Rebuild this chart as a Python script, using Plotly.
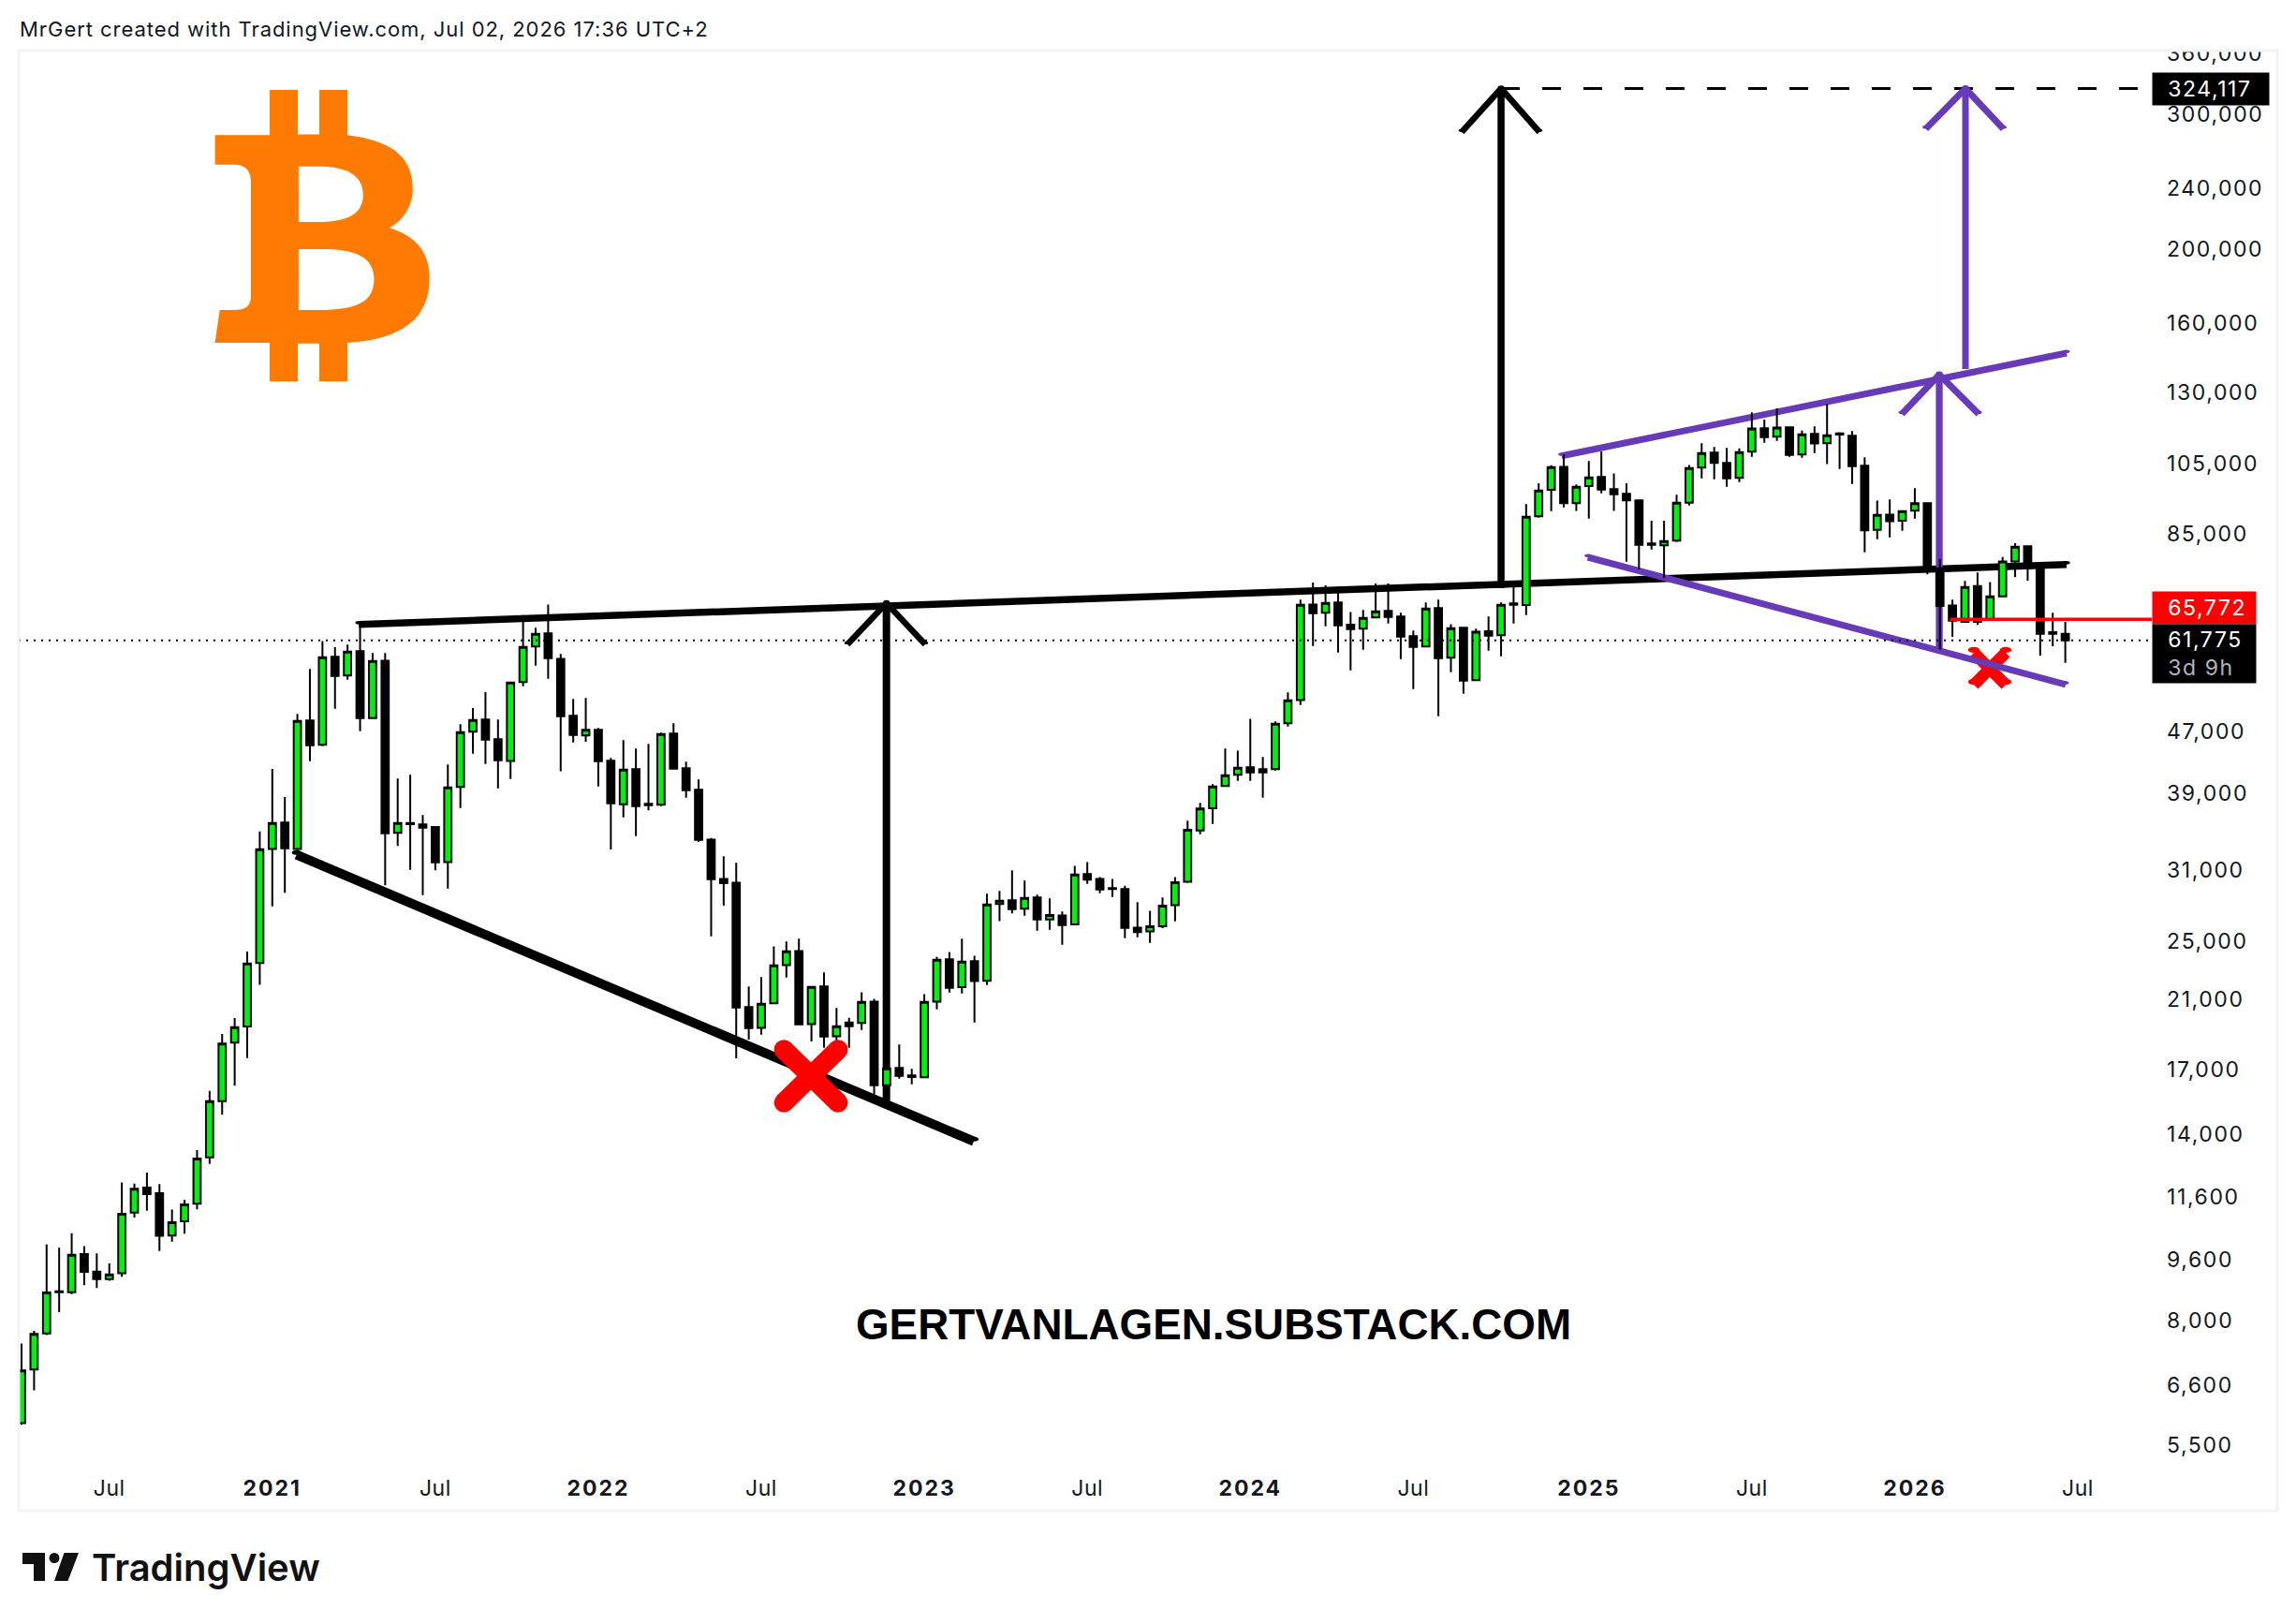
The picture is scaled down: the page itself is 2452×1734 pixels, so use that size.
import math

import plotly.graph_objects as go

# 2W BTC bars (bar index is the x axis, like TradingView)
bar_open = [5880, 6910, 7700, 8735, 8710, 9770, 9270, 9060, 9225, 11070, 11930, 11730, 10330, 10780, 11370, 13070, 15470, 18440, 19360, 23430,
            33000, 35720, 33000, 48540, 45110, 58770, 55560, 59780, 48900, 58100, 34640, 35680, 35520, 35250, 31730, 39750, 46930, 48670, 45880, 43000,
            54470, 60620, 63060, 58430, 49220, 46400, 47190, 43010, 37740, 41940, 37790, 37680, 46660, 42050, 39420, 33950, 30160, 29820, 20520, 19280,
            20750, 23280, 24280, 19500, 21830, 18800, 19590, 19560, 20860, 16230, 17090, 16710, 16620, 20860, 23690, 21790, 23560, 22200, 27970, 28280,
            27570, 28520, 26700, 27030, 26310, 30610, 30160, 29330, 29250, 26060, 25760, 26170, 27880, 29910, 34870, 37300, 39860, 41230, 42170, 41930,
            41930, 48130, 51630, 68790, 67090, 69190, 64730, 63960, 66150, 67460, 66330, 62530, 60620, 68030, 58610, 64130, 54790, 63470, 62710, 69000,
            68680, 89640, 97070, 104020, 93230, 98170, 100890, 97260, 95900, 94040, 82620, 82160, 83320, 93400, 103760, 108550, 105240, 100610, 108850, 116820,
            113880, 117150, 107940, 114820, 111650, 115030, 114160, 104340, 86080, 90120, 88440, 91180, 93230, 76700, 68560, 65300, 72690, 65700, 70480, 78300,
            81930, 77030, 63300, 63000]
bar_high = [7470, 7760, 10060, 9960, 10400, 10010, 9790, 9500, 12120, 12080, 12480, 12060, 11170, 11500, 13350, 15960, 18930, 19860, 24250, 34780,
            41970, 38570, 49500, 56680, 61630, 60500, 60960, 64900, 59440, 59440, 40770, 41230, 36530, 35250, 42530, 47990, 50400, 52860, 48670, 54500,
            66640, 64130, 68790, 59270, 51780, 51930, 47460, 43370, 45750, 44610, 45250, 46800, 48130, 42890, 40650, 34100, 32280, 31650, 21830, 22450,
            24630, 25000, 25210, 21850, 22770, 20460, 19870, 21460, 21040, 17450, 18340, 17040, 21340, 23860, 24220, 25200, 23950, 28840, 29090, 30940,
            30000, 28760, 28440, 27340, 31370, 31730, 30330, 30160, 29550, 28120, 27410, 28520, 30330, 35930, 37900, 40090, 44610, 44340, 48800, 43500,
            48400, 52820, 69780, 73470, 72860, 72500, 67260, 67670, 73260, 73260, 67090, 63590, 69190, 69780, 64830, 64240, 63960, 66330, 69190, 72500,
            92970, 99000, 104510, 108040, 98650, 105830, 108950, 101990, 99000, 94040, 88450, 88450, 95640, 104600, 111650, 110400, 110100, 109960, 122500, 119880,
            123990, 117150, 116000, 117440, 125600, 115400, 115800, 107020, 93950, 94300, 91340, 97540, 93230, 78900, 69780, 73820, 75720, 73600, 79340, 82690,
            82160, 77030, 67090, 65300]
bar_low = [5850, 6490, 7660, 8210, 8665, 8900, 8825, 9020, 9130, 10905, 11130, 9860, 10140, 10390, 11180, 12810, 14850, 16200, 17600, 21950,
           27770, 28920, 32800, 42970, 44950, 50290, 54880, 47010, 48750, 29590, 33290, 30990, 28720, 30950, 29300, 37330, 43930, 42590, 39590, 40730,
           53800, 57240, 55030, 41690, 45440, 45530, 39810, 32960, 36290, 34300, 37050, 37540, 41890, 38500, 33720, 25380, 27840, 17590, 18610, 18890,
           20720, 22430, 19460, 18510, 18160, 18470, 18160, 19160, 15790, 16030, 16550, 16270, 16580, 20380, 21440, 21380, 19590, 21930, 26560, 27200,
           27000, 25810, 25890, 24740, 26250, 29710, 28890, 28560, 25240, 25310, 24880, 26010, 26550, 29800, 34490, 35580, 39800, 40500, 40500, 38500,
           41770, 47680, 50860, 60700, 64420, 59520, 56430, 60060, 66100, 64960, 58390, 53360, 60500, 49170, 56120, 52610, 54630, 59880, 58870, 64960,
           66630, 89290, 91060, 92100, 91140, 89040, 96060, 91140, 78230, 76480, 81140, 74440, 83000, 92610, 100490, 100210, 97970, 99360, 107210, 111840,
           112470, 107210, 106930, 108400, 104850, 103330, 98800, 80450, 83690, 84170, 85810, 89040, 75300, 60100, 62410, 65100, 64710, 65530, 70300, 74650,
           73880, 58990, 60670, 57720]
bar_close = [6890, 7690, 8705, 8715, 9750, 9260, 9060, 9190, 11030, 11890, 11700, 10320, 10750, 11340, 13020, 15470, 18390, 19320, 23390, 32970,
             35680, 33060, 48480, 45060, 58700, 55490, 59710, 48900, 58050, 34590, 35680, 35550, 35180, 31700, 39700, 46880, 48620, 45830, 43080, 54410,
             60550, 62990, 58540, 49170, 46490, 47190, 42970, 37850, 41890, 37540, 37640, 46600, 42000, 39370, 33910, 30130, 29780, 20490, 19260, 20730,
             23260, 24260, 19480, 21800, 18780, 19370, 19370, 20840, 16230, 17070, 16690, 16630, 20840, 23660, 21750, 23520, 22190, 27920, 28250, 27540,
             28490, 26700, 27060, 26250, 30570, 30100, 29210, 29250, 26030, 25710, 26170, 27840, 29870, 34960, 37260, 39800, 41190, 42130, 41530, 41530,
             48080, 51570, 68720, 67010, 69110, 64600, 63880, 66070, 67390, 66260, 62460, 60550, 67960, 58540, 64050, 54730, 63360, 62640, 68720, 68720,
             89540, 96900, 103940, 93230, 97970, 100770, 97150, 95790, 94040, 82300, 82300, 83220, 93400, 103640, 108400, 105240, 100490, 108730, 116680, 113750,
             117010, 107820, 114690, 111540, 114380, 114600, 104230, 85950, 90050, 88320, 91050, 93230, 75990, 68500, 65530, 72520, 65300, 70480, 78300, 81840,
             76630, 62990, 63000, 61775]

price_ticks = [360000, 300000, 240000, 200000, 160000, 130000, 105000, 85000, 47000, 39000, 31000,
               25000, 21000, 17000, 14000, 11600, 9600, 8000, 6600, 5500]
time_ticks = [7, 20, 33, 46, 59, 72, 85, 98, 111, 125, 138, 151, 164]
time_labels = ["Jul", "<b>2021</b>", "Jul", "<b>2022</b>", "Jul", "<b>2023</b>", "Jul", "<b>2024</b>", "Jul",
               "<b>2025</b>", "Jul", "<b>2026</b>", "Jul"]

# levels from the price scale
target_price = 324117
stop_price = 65772
last_price = 61775

# drawings, anchors as (bar index, price)
upper_line_x, upper_line_y = [26.9, 163.1], [64790, 77570]
lower_line_x, lower_line_y = [21.93, 75.95], [32430, 13710]
arrow1_x, arrow1_y = [68.98, 68.98], [15500, 69050]
arrow1_head_x, arrow1_head_y = [65.87, 68.98, 72.07], [61010, 69050, 61010]
arrow2_x, arrow2_y = [118, 118], [72230, target_price]
arrow2_head_x, arrow2_head_y = [114.86, 118, 121.06], [284380, target_price, 284380]
purple_top_x, purple_top_y = [122.83, 163.1], [107500, 146400]
purple_bottom_x, purple_bottom_y = [124.92, 163.03], [79270, 54100]
purple1_x, purple1_y = [152.95, 152.95], [60170, 137220]
purple1_head_x, purple1_head_y = [149.96, 152.95, 156.09], [121900, 137220, 121900]
purple2_x, purple2_y = [155.04, 155.04], [139550, target_price]
purple2_head_x, purple2_head_y = [151.87, 155.04, 158.06], [287100, target_price, 287100]
big_cross_x, big_cross_y = [60.8, 65.12], [18060, 15400]
small_cross_x, small_cross_y = [155.71, 158.25], [59490, 54050]

BLACK = "#000000"
PURPLE = "#673AB7"
RED = "#FF0000"
TEXT = "#131722"

# page pixels of the chart pane
PANE_L, PANE_R, PANE_T, PANE_B = 20, 2298, 54, 1565


def px(x, y):
    # page pixel to paper coordinates, used only for the logos and the frame
    return (x - PANE_L) / (PANE_R - PANE_L), 1 - (y - PANE_T) / (PANE_B - PANE_T)


def logo_path(parts):
    out = []
    for part in parts:
        if isinstance(part, str):
            out.append(part)
        else:
            xp, yp = px(part[0], part[1])
            out.append(f"{xp:.5f},{yp:.5f}")
    return " ".join(out)


def add_stroke(fig, xs, ys, color, width, dash=None, caps=True):
    for i in range(len(xs) - 1):
        fig.add_shape(type="line", layer="below", xref="x", yref="y", x0=xs[i], x1=xs[i + 1], y0=ys[i], y1=ys[i + 1],
                      line=dict(color=color, width=width, dash=dash))
    if caps:
        for x, y in zip(xs, ys):
            fig.add_shape(type="circle", layer="below", xref="x", yref="y", xsizemode="pixel", ysizemode="pixel",
                          xanchor=x, yanchor=y, x0=-width / 2, x1=width / 2, y0=-width / 2, y1=width / 2,
                          fillcolor=color, line=dict(width=0))


fig = go.Figure()

fig.add_trace(go.Candlestick(
    x=list(range(len(bar_close))), open=bar_open, high=bar_high, low=bar_low, close=bar_close,
    whiskerwidth=0, hoverinfo="skip", showlegend=False,
    increasing=dict(line=dict(color=BLACK, width=2), fillcolor="#00F00F"),
    decreasing=dict(line=dict(color=BLACK, width=2), fillcolor=BLACK),
))

# everything that sits under the candles
add_stroke(fig, small_cross_x, small_cross_y, RED, 12.5)
add_stroke(fig, small_cross_x, small_cross_y[::-1], RED, 12.5)
add_stroke(fig, upper_line_x, upper_line_y, BLACK, 7.5)
add_stroke(fig, lower_line_x, lower_line_y, BLACK, 10)
add_stroke(fig, arrow1_x, arrow1_y, BLACK, 8, caps=False)
add_stroke(fig, arrow1_head_x, arrow1_head_y, BLACK, 6.5)
add_stroke(fig, arrow2_x, arrow2_y, BLACK, 7.5, caps=False)
add_stroke(fig, arrow2_head_x, arrow2_head_y, BLACK, 6.5)
add_stroke(fig, [118, 169.9], [target_price, target_price], BLACK, 3, dash="20px,24px", caps=False)
add_stroke(fig, purple_top_x, purple_top_y, PURPLE, 7)
add_stroke(fig, purple_bottom_x, purple_bottom_y, PURPLE, 7)
add_stroke(fig, purple1_x, purple1_y, PURPLE, 7.3, caps=False)
add_stroke(fig, purple1_head_x, purple1_head_y, PURPLE, 7)
add_stroke(fig, purple2_x, purple2_y, PURPLE, 7, caps=False)
add_stroke(fig, purple2_head_x, purple2_head_y, PURPLE, 7)

# last price dots, stop level and big cross go over the candles
fig.add_trace(go.Scatter(x=[-0.224, 169.9], y=[last_price, last_price], mode="lines", hoverinfo="skip", showlegend=False,
                         line=dict(color=BLACK, width=2, dash="2px,6px")))
fig.add_trace(go.Scatter(x=[153.8, 169.9], y=[stop_price, stop_price], mode="lines", hoverinfo="skip", showlegend=False,
                         line=dict(color=RED, width=3.5)))
for cross_y in (big_cross_y, big_cross_y[::-1]):
    fig.add_trace(go.Scatter(x=big_cross_x, y=cross_y, mode="lines+markers", hoverinfo="skip", showlegend=False,
                             line=dict(color=RED, width=21), marker=dict(size=21, color=RED, line=dict(width=0))))

# bitcoin logo
btc_outline = ["M", (229.6, 144.3), "L", (288, 144.3), "L", (288, 96), "L", (318, 96), "L", (318, 143.5), "L", (341, 143.5),
               "L", (341, 96), "L", (371, 96), "L", (371, 144.3),
               "C", (415, 150), (440.8, 165), (440.8, 201.7),
               "C", (440.8, 218), (432, 235), (415.8, 243.3),
               "C", (445, 252), (458.7, 270), (458.7, 296.7),
               "C", (458.7, 340), (430, 362), (371, 366),
               "L", (371, 407.3), "L", (341, 407.3), "L", (341, 366.7), "L", (318, 366.7), "L", (318, 407.3), "L", (288, 407.3),
               "L", (288, 366), "L", (229.6, 366), "L", (234.7, 331), "L", (250, 331),
               "C", (264, 331), (268, 326), (268, 315), "L", (268, 195),
               "C", (268, 182), (262, 175.7), (250, 175.7), "L", (229.6, 175.7), "Z",
               "M", (318.9, 177.7), "L", (340, 177.7),
               "C", (372, 177.7), (387.8, 188), (387.8, 208),
               "C", (387.8, 228), (372, 237), (340, 237), "L", (318.9, 237), "Z",
               "M", (318.9, 266), "L", (345, 266),
               "C", (382, 266), (399.5, 276), (399.5, 298),
               "C", (399.5, 322), (382, 331), (340, 331), "L", (318.9, 331), "Z"]
fig.add_shape(type="path", xref="paper", yref="paper", path=logo_path(btc_outline), fillcolor="#FF7A00",
              line=dict(width=0), fillrule="evenodd", layer="above")

# TradingView mark in the footer
tv_mark = ["M", (24, 1658), "L", (48, 1658), "L", (48, 1688), "L", (36, 1688), "L", (36, 1670), "L", (24, 1670), "Z",
           "M", (68.5, 1658), "L", (84, 1658), "L", (72.5, 1688), "L", (58, 1688), "Z"]
fig.add_shape(type="path", xref="paper", yref="paper", path=logo_path(tv_mark), fillcolor="#111111",
              line=dict(width=0), layer="above")
dot_x0, dot_y0 = px(52.5, 1658)
dot_x1, dot_y1 = px(63.5, 1669)
fig.add_shape(type="circle", xref="paper", yref="paper", x0=dot_x0, x1=dot_x1, y0=dot_y0, y1=dot_y1,
              fillcolor="#111111", line=dict(width=0), layer="above")

# white strip cuts the 360,000 label at the top of the frame, then the frame itself
cut_x0, cut_y0 = px(2299, 30)
cut_x1, cut_y1 = px(2440, PANE_T)
fig.add_shape(type="rect", xref="paper", yref="paper", x0=cut_x0, x1=cut_x1, y0=cut_y0, y1=cut_y1,
              fillcolor="white", line=dict(width=0), layer="above")
box_x0, box_y0 = px(20, 54)
box_x1, box_y1 = px(2432, 1613)
fig.add_shape(type="rect", xref="paper", yref="paper", x0=box_x0, x1=box_x1, y0=box_y0, y1=box_y1,
              line=dict(color="#F2F3F5", width=3), layer="above")


def price_tag(text, price, color, width, height, shift):
    fig.add_annotation(xref="paper", yref="y", x=1, y=math.log10(price), xanchor="left", yanchor="middle", yshift=shift,
                       text=text, showarrow=False, align="left", bgcolor=color, width=width, height=height, borderpad=0,
                       font=dict(family="Inter", size=23, color="white"))


price_tag("  324,117", target_price, BLACK, 124, 34, 0)
price_tag("  65,772", stop_price, RED, 110, 34, 12)
price_tag("  61,775<br>  <span style='color:#B2B5BE'>3d 9h</span>", last_price, BLACK, 110, 62, -14)

# css spacing below spreads this text both ways from its middle, so it starts further right
header_x, header_y = px(48, 31)
fig.add_annotation(xref="paper", yref="paper", x=header_x, y=header_y, xanchor="left", yanchor="middle", showarrow=False,
                   text="MrGert created with TradingView.com, Jul 02, 2026 17:36 UTC+2",
                   font=dict(family="Inter", size=22, color=TEXT))
brand_x, brand_y = px(1296, 1414)
fig.add_annotation(xref="paper", yref="paper", x=brand_x, y=brand_y, xanchor="center", yanchor="middle", showarrow=False,
                   text="<b>GERTVANLAGEN.SUBSTACK.COM</b>",
                   font=dict(family="Liberation Sans", size=45.8, color=BLACK))
tv_x, tv_y = px(96, 1673)
fig.add_annotation(xref="paper", yref="paper", x=tv_x, y=tv_y, xanchor="left", yanchor="middle", showarrow=False,
                   text="TradingView", font=dict(family="Inter", size=40, color="#111111", weight=600))

fig.update_layout(
    width=2452, height=1734,
    margin=dict(l=PANE_L, r=2452 - PANE_R, t=PANE_T, b=1734 - PANE_B, pad=0),
    paper_bgcolor="white", plot_bgcolor="white",
    showlegend=False, hovermode=False, boxgap=0.42, boxgroupgap=0,
    font=dict(family="Inter", size=23, color=TEXT),
)
fig.update_xaxes(range=[-0.224, 169.9], rangeslider=dict(visible=False), showgrid=False, zeroline=False, showline=False,
                 ticks="", tickmode="array", tickvals=time_ticks, ticktext=time_labels, ticklabelstandoff=8,
                 tickfont=dict(family="Inter", size=23, color=TEXT))
fig.update_yaxes(type="log", side="right", range=[3.7138, 5.5602], showgrid=False, zeroline=False, showline=False,
                 ticks="", tickmode="array", tickvals=price_ticks, ticktext=[f"{v:,}" for v in price_ticks],
                 ticklabelstandoff=15, tickfont=dict(family="Inter", size=23, color=TEXT))

# the pictured labels are spaced wider than Inter, plotly has no attribute for it
page_css = (".ytick text{letter-spacing:1.6px}.xtick text{letter-spacing:.5px}.xtick tspan{letter-spacing:2px}"
            ".annotation[data-index='0'] text,.annotation[data-index='1'] text,.annotation[data-index='2'] text"
            "{letter-spacing:1.6px}.annotation[data-index='3'] text{letter-spacing:.95px}")
post = ("document.body.style.margin='0';var s=document.createElement('style');s.textContent=\"" + page_css + "\";"
        "document.head.appendChild(s);")
fig.write_html("out.html", config=dict(displayModeBar=False), post_script=post)
